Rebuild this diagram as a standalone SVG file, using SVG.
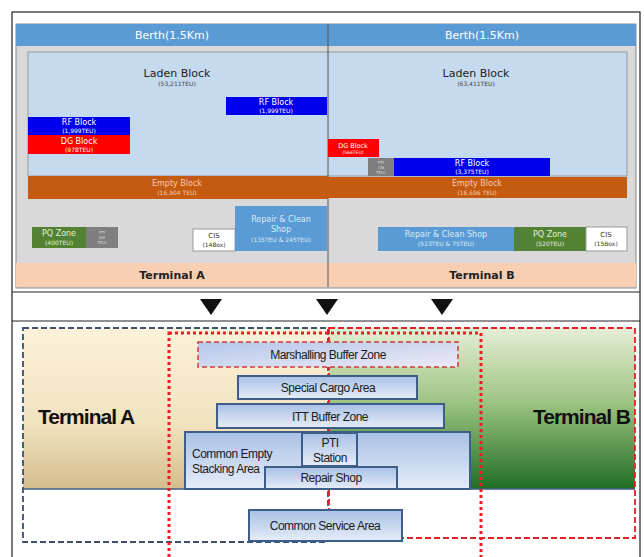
<svg xmlns="http://www.w3.org/2000/svg" width="644" height="557" viewBox="0 0 644 557">
<defs>
<linearGradient id="gTan" x1="0" y1="0" x2="0" y2="1"><stop offset="0" stop-color="#fcf1da"/><stop offset="0.6" stop-color="#f1e2bf"/><stop offset="1" stop-color="#d5bd8c"/></linearGradient>
<linearGradient id="gGreen" x1="0" y1="0" x2="0" y2="1"><stop offset="0" stop-color="#e6eed6"/><stop offset="0.45" stop-color="#9fc584"/><stop offset="1" stop-color="#1f6e22"/></linearGradient>
<linearGradient id="gBlock" x1="0" y1="0" x2="0" y2="1"><stop offset="0" stop-color="#a8c1e6"/><stop offset="1" stop-color="#e6edf8"/></linearGradient>
<linearGradient id="gMarsh" x1="0" y1="0" x2="1" y2="1"><stop offset="0" stop-color="#b3c8ea"/><stop offset="1" stop-color="#eee9f6"/></linearGradient>
</defs>
<style>
.t{font-family:"DejaVu Sans",Verdana,sans-serif;text-anchor:middle}
.s{font-size:6px}
.w{fill:#ffffff}
.b{font-family:"Liberation Sans",Arial,sans-serif;text-anchor:middle;font-size:12px;fill:#1a1a1a;letter-spacing:-0.5px}
.blk{fill:url(#gBlock);stroke:#3e5d88;stroke-width:2}
.frame{fill:none;stroke:#222;stroke-width:1.2}
</style>
<g id="frame">
<rect class="frame" x="12" y="12" width="628" height="560"/>
<line x1="12" y1="292" x2="640" y2="292" stroke="#222" stroke-width="1.2"/>
<line x1="12" y1="321" x2="640" y2="321" stroke="#222" stroke-width="1.2"/>
</g>
<g id="top-image">
<rect x="16" y="24" width="620" height="264" fill="#d9d9d9" stroke="#8a8a8a" stroke-width="1"/>
<rect id="berth-bar" x="16" y="24" width="620" height="22" fill="#5b9bd5"/>
<text class="t w" x="172" y="39" font-size="11">Berth(1.5Km)</text>
<text class="t w" x="482" y="39" font-size="11">Berth(1.5Km)</text>
<rect x="28" y="52" width="599" height="124" fill="#c5d9ef" stroke="#9a9a9a" stroke-width="1"/>
<rect x="16" y="263" width="620" height="24" fill="#f8cfb3"/>
<line x1="328" y1="24" x2="328" y2="287" stroke="#555" stroke-width="1"/>
</g>
<g id="terminalA-layout">
<text class="t" x="177" y="77" font-size="11" fill="#222">Laden Block</text>
<text class="t s" x="177" y="86" fill="#444">(53,211TEU)</text>
<g id="rfA1"><rect x="28" y="117" width="102" height="18" fill="#0000ee"/><text class="t w" x="79" y="125" font-size="8">RF Block</text><text class="t s w" x="79" y="133">(1,999TEU)</text></g>
<g id="dgA"><rect x="28" y="135" width="102" height="19" fill="#ff0000"/><text class="t w" x="79" y="144" font-size="8">DG Block</text><text class="t s w" x="79" y="152">(978TEU)</text></g>
<g id="rfA2"><rect x="226" y="97" width="101" height="18" fill="#0000ee"/><text class="t w" x="276" y="105" font-size="8">RF Block</text><text class="t s w" x="276" y="113">(1,999TEU)</text></g>
<g id="emptyA"><rect x="28" y="176" width="300" height="23" fill="#c55a11"/><text class="t" x="177" y="186" font-size="8" fill="#f8cbad">Empty Block</text><text class="t s" x="177" y="195" fill="#f8cbad">(16,904 TEU)</text></g>
<g id="pqA"><rect x="32" y="227" width="54" height="21" fill="#548235"/><text class="t" x="59" y="236" font-size="8" fill="#e2f0d9">PQ Zone</text><text class="t s" x="59" y="245" fill="#e2f0d9">(400TEU)</text></g>
<g id="ptiA"><rect x="86" y="227" width="32" height="21" fill="#7f7f7f"/><text class="t" x="102" y="234" font-size="4" fill="#ddd">PTI</text><text class="t" x="102" y="239" font-size="4" fill="#ddd">(80</text><text class="t" x="102" y="244" font-size="4" fill="#ddd">TEU)</text></g>
<g id="cisA"><rect x="193" y="229" width="42" height="22" fill="#ffffff" stroke="#999" stroke-width="1"/><text class="t" x="214" y="238" font-size="7" fill="#333">CIS</text><text class="t s" x="214" y="247" fill="#333">(148ox)</text></g>
<g id="repairA"><rect x="235" y="206" width="92" height="45" fill="#5b9bd5"/><text class="t" x="281" y="222" font-size="8" fill="#deebf7">Repair &amp; Clean</text><text class="t" x="281" y="232" font-size="8" fill="#deebf7">Shop</text><text class="t s" x="281" y="242" fill="#deebf7">(135TEU &amp; 245TEU)</text></g>
<text class="t" x="172" y="279" font-size="11" font-weight="bold" fill="#222">Terminal A</text>
</g>
<g id="terminalB-layout">
<text class="t" x="476" y="77" font-size="11" fill="#222">Laden Block</text>
<text class="t s" x="476" y="86" fill="#444">(63,411TEU)</text>
<g id="dgB"><rect x="328" y="139" width="51" height="18" fill="#ff0000"/><text class="t w" x="353" y="148" font-size="6.5">DG Block</text><text class="t w" x="353" y="154" font-size="4.5">(566TEU)</text></g>
<g id="ptiB"><rect x="368" y="158" width="26" height="18" fill="#7f7f7f"/><text class="t" x="381" y="164" font-size="4" fill="#ddd">PTI</text><text class="t" x="381" y="169" font-size="4" fill="#ddd">(36</text><text class="t" x="381" y="174" font-size="4" fill="#ddd">TEU)</text></g>
<g id="rfB"><rect x="394" y="158" width="156" height="18" fill="#0000ee"/><text class="t w" x="472" y="166" font-size="8">RF Block</text><text class="t s w" x="472" y="174">(3,375TEU)</text></g>
<g id="emptyB"><rect x="328" y="177" width="299" height="21" fill="#c55a11"/><text class="t" x="477" y="186" font-size="8" fill="#f8cbad">Empty Block</text><text class="t s" x="477" y="195" fill="#f8cbad">(16,696 TEU)</text></g>
<g id="repairB"><rect x="378" y="227" width="136" height="24" fill="#5b9bd5"/><text class="t" x="446" y="237" font-size="8" fill="#deebf7">Repair &amp; Clean Shop</text><text class="t s" x="446" y="246" fill="#deebf7">(523TEU &amp; 75TEU)</text></g>
<g id="pqB"><rect x="514" y="227" width="72" height="24" fill="#548235"/><text class="t" x="550" y="237" font-size="8" fill="#e2f0d9">PQ Zone</text><text class="t s" x="550" y="246" fill="#e2f0d9">(520TEU)</text></g>
<g id="cisB"><rect x="586" y="227" width="41" height="24" fill="#ffffff" stroke="#999" stroke-width="1"/><text class="t" x="606" y="237" font-size="7" fill="#333">CIS</text><text class="t s" x="606" y="246" fill="#333">(15Box)</text></g>
<text class="t" x="482" y="279" font-size="11" font-weight="bold" fill="#222">Terminal B</text>
</g>
<g id="arrows" fill="#111">
<polygon points="200,299 222,299 211,315"/>
<polygon points="316,299 338,299 327,315"/>
<polygon points="431,299 453,299 442,315"/>
</g>
<g id="terminal-areas">
<rect x="23" y="328" width="306" height="161" fill="url(#gTan)"/>
<rect x="329" y="328" width="306" height="161" fill="url(#gGreen)"/>
<line x1="23" y1="489" x2="635" y2="489" stroke="#3e5d88" stroke-width="1.5"/>
<rect id="boundaryA" x="23" y="328" width="305" height="214" fill="none" stroke="#3b4f6e" stroke-width="1.8" stroke-dasharray="6,3"/>
<rect id="boundaryB" x="329" y="328" width="306" height="210" fill="none" stroke="#e31f26" stroke-width="1.8" stroke-dasharray="6,3"/>
<text x="38" y="424" font-family="Liberation Sans,Arial,sans-serif" font-size="21" font-weight="bold" fill="#111" letter-spacing="-1">Terminal A</text>
<text x="533" y="424" font-family="Liberation Sans,Arial,sans-serif" font-size="21" font-weight="bold" fill="#111" letter-spacing="-1">Terminal B</text>
</g>
<g id="common-zone">
<rect x="169" y="333" width="312" height="226" fill="none" stroke="#ee1c25" stroke-width="3" stroke-dasharray="3,3"/>
</g>
<g id="marshalling"><rect x="198" y="342" width="260" height="25" fill="url(#gMarsh)" stroke="#d03a3a" stroke-width="1.5" stroke-dasharray="5,3"/><text class="b" x="328" y="359">Marshalling Buffer Zone</text></g>
<g id="special-cargo"><rect class="blk" x="238" y="376" width="179" height="23"/><text class="b" x="328" y="392">Special Cargo Area</text></g>
<g id="itt-buffer"><rect class="blk" x="217" y="404" width="227" height="24"/><text class="b" x="330" y="421">ITT Buffer Zone</text></g>
<g id="common-empty"><rect class="blk" x="185" y="432" width="285" height="57"/><text class="b" x="192" y="458" text-anchor="start" style="text-anchor:start">Common Empty</text><text class="b" x="192" y="473" style="text-anchor:start">Stacking Area</text></g>
<g id="pti-station"><rect class="blk" x="302" y="433" width="55" height="33"/><text class="b" x="330" y="447">PTI</text><text class="b" x="330" y="462">Station</text></g>
<g id="repair-shop"><rect class="blk" x="265" y="467" width="132" height="22"/><text class="b" x="331" y="482">Repair Shop</text></g>
<g id="common-service"><rect class="blk" x="249" y="510" width="153" height="31"/><text class="b" x="325" y="530">Common Service Area</text></g>
</svg>
